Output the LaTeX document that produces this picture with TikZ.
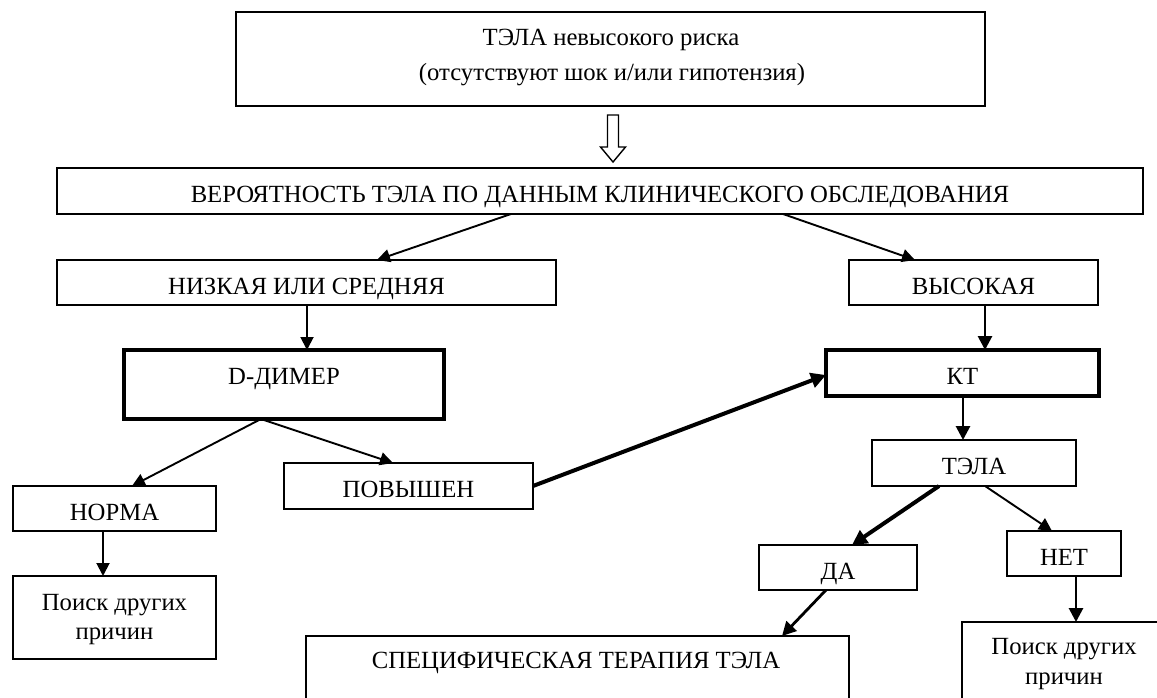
\documentclass[tikz,border=0pt]{standalone}
\usepackage{fontspec}
\setmainfont{Liberation Serif}
\usetikzlibrary{arrows.meta,calc}
\begin{document}
\begin{tikzpicture}[x=1pt,y=-1pt,
  box/.style={draw=black,line width=1.9pt,fill=white,inner sep=0pt,outer sep=0pt,font=\fontsize{24.7}{31}\selectfont,text height=23pt,text depth=0pt},
  thickbox/.style={box,line width=4.3pt},
  txt/.style={inner sep=0pt,font=\fontsize{24.7}{31}\selectfont,anchor=base},
  arr/.style={line width=1.9pt,-{Triangle[length=13pt,width=13pt]}},
  arrthick/.style={line width=2.8pt,-{Triangle[length=14pt,width=14pt]}},
  arrbold/.style={line width=4pt,-{Triangle[length=15pt,width=15pt]}}]
\useasboundingbox (0,0) rectangle (1157,698);
\clip (0,0) rectangle (1157,698);
% boxes
\node[box,minimum width=749pt,minimum height=94pt] (top) at (610.5,59) {};
\node[txt] (top1) at (611,46) {ТЭЛА невысокого риска};
\node[txt] (top2) at (612,81) {(отсутствуют шок и/или гипотензия)};
\node[box,minimum width=1086pt,minimum height=46pt] (ver) at (600,191) {ВЕРОЯТНОСТЬ ТЭЛА ПО ДАННЫМ КЛИНИЧЕСКОГО ОБСЛЕДОВАНИЯ};
\node[box,minimum width=499pt,minimum height=45pt] (nizk) at (306.5,282.5) {НИЗКАЯ ИЛИ СРЕДНЯЯ};
\node[box,minimum width=249pt,minimum height=45pt] (vys) at (973.5,282.5) {ВЫСОКАЯ};
\node[thickbox,minimum width=320pt,minimum height=69pt,text height=0pt] (dd) at (284,384.5) {D-ДИМЕР};
\node[thickbox,minimum width=273pt,minimum height=46pt] (kt) at (962.5,373) {КТ};
\node[box,minimum width=204pt,minimum height=46pt] (tela) at (974,463) {ТЭЛА};
\node[box,minimum width=203pt,minimum height=45pt] (norma) at (114.5,508.5) {НОРМА};
\node[box,minimum width=249pt,minimum height=46pt] (pov) at (408.5,486) {ПОВЫШЕН};
\node[box,minimum width=203pt,minimum height=83pt] (poiskL) at (114.5,617.5) {};
\node[txt] (poiskL1) at (114.5,610) {Поиск других};
\node[txt] (poiskL2) at (114.5,639) {причин};
\node[box,minimum width=158pt,minimum height=45pt] (da) at (838,567.5) {ДА};
\node[box,minimum width=114pt,minimum height=45pt] (net) at (1064,553.5) {НЕТ};
\node[box,minimum width=204pt,minimum height=83pt] (poiskR) at (1064,663.5) {};
\node[txt] (poiskR1) at (1064,654) {Поиск других};
\node[txt] (poiskR2) at (1064,684) {причин};
\node[box,minimum width=543pt,minimum height=90pt] (spec) at (577.5,681) {};
\node[txt] (spectxt) at (576,668) {СПЕЦИФИЧЕСКАЯ ТЕРАПИЯ ТЭЛА};
% hollow arrow
\draw[line width=1.4pt,fill=white,line join=miter] (607.5,115) -- (618.5,115) -- (618.5,147) -- (625.5,147) -- (613,162) -- (600.5,147) -- (607.5,147) -- cycle;
% connectors
\draw[arr] (511,0 |- ver.south) -- (377,0 |- nizk.north);
\draw[arr] (783,0 |- ver.south) -- (915,0 |- vys.north);
\draw[arr] (307,0 |- nizk.south) -- (307,0 |- dd.north);
\draw[arrthick] (985,0 |- vys.south) -- (985,0 |- kt.north);
\draw[arrthick] (963,0 |- kt.south) -- (963,0 |- tela.north);
\draw[arr] (261,0 |- dd.south) -- (132,0 |- norma.north);
\draw[arr] (261,0 |- dd.south) -- (393,0 |- pov.north);
\draw[arrbold] (pov.east) -- (826,375);
\draw[arr] (103,0 |- norma.south) -- (103,0 |- poiskL.north);
\draw[arrbold] (939,0 |- tela.south) -- (852,0 |- da.north);
\draw[arr] (985,0 |- tela.south) -- (1052,0 |- net.north);
\draw[arrthick] (826,0 |- da.south) -- (782,0 |- spec.north);
\draw[arrthick] (1076,0 |- net.south) -- (1076,0 |- poiskR.north);
\end{tikzpicture}
\end{document}
